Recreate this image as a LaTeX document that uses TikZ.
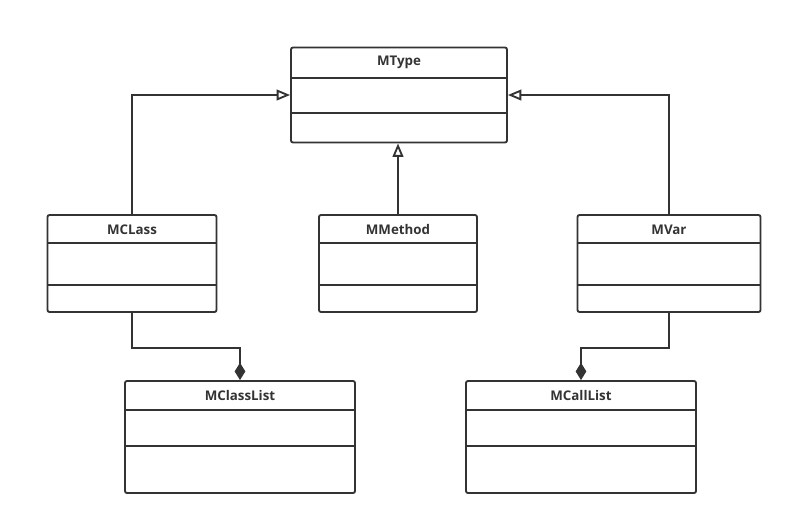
\documentclass[tikz,border=0pt]{standalone}
\usepackage{fontspec}
\setmainfont{Open Sans}
\usepackage{tikz}
\usetikzlibrary{arrows.meta,calc}
\definecolor{umlgray}{HTML}{333333}

\begin{document}
\begin{tikzpicture}[x=0.75pt,y=-0.75pt,line width=1.4pt,color=umlgray,
    umlbox/.style={draw,rounded corners=1.5pt,inner sep=0pt},
    umltitle/.style={font=\bfseries\fontsize{10}{12}\selectfont,inner sep=0pt},
    inherit/.style={-{Triangle[open,length=10pt,width=8pt]}},
    compose/.style={-{Diamond[length=13pt,width=8pt]}}]
    \useasboundingbox (0,0) rectangle (793,526);
    \node[umlbox,minimum width=162pt,minimum height=71.25pt] (mtype) at (399,95) {};
    \node[umlbox,minimum width=126.75pt,minimum height=72.75pt] (mclass) at (132,263.5) {};
    \node[umlbox,minimum width=118.5pt,minimum height=72.75pt] (mmethod) at (398,263.5) {};
    \node[umlbox,minimum width=137.25pt,minimum height=72.75pt] (mvar) at (669,263.5) {};
    \node[umlbox,minimum width=172.5pt,minimum height=84pt] (mclasslist) at (240,437) {};
    \node[umlbox,minimum width=172.5pt,minimum height=84pt] (mcalllist) at (581,437) {};
    \node[umltitle] (mtype-t) at ($(mtype.north)+(0,16)$) {MType};
    \node[umltitle] (mclass-t) at ($(mclass.north)+(0,15.5)$) {MCLass};
    \node[umltitle] (mmethod-t) at ($(mmethod.north)+(0,15.5)$) {MMethod};
    \node[umltitle] (mvar-t) at ($(mvar.north)+(0,15.5)$) {MVar};
    \node[umltitle] (mclasslist-t) at ($(mclasslist.north)+(0,15.5)$) {MClassList};
    \node[umltitle] (mcalllist-t) at ($(mcalllist.north)+(0,15.5)$) {MCallList};
    \foreach \n/\a/\b in {mtype/31/66,mclass/29/71,mmethod/29/71,mvar/29/71,mclasslist/30/66,mcalllist/30/66}{
        \draw ($(\n.north west)+(0,\a)$) -- ($(\n.north east)+(0,\a)$);
        \draw ($(\n.north west)+(0,\b)$) -- ($(\n.north east)+(0,\b)$);
    }
    \draw[inherit] (mclass.north) |- (mtype.west);
    \draw[inherit] (mmethod.north) -- (mmethod.north |- mtype.south);
    \draw[inherit] (mvar.north) |- (mtype.east);
    \draw[compose] (mclass.south) -- ++(0,35) -| (mclasslist.north);
    \draw[compose] (mvar.south) -- ++(0,35) -| (mcalllist.north);
\end{tikzpicture}
\end{document}
